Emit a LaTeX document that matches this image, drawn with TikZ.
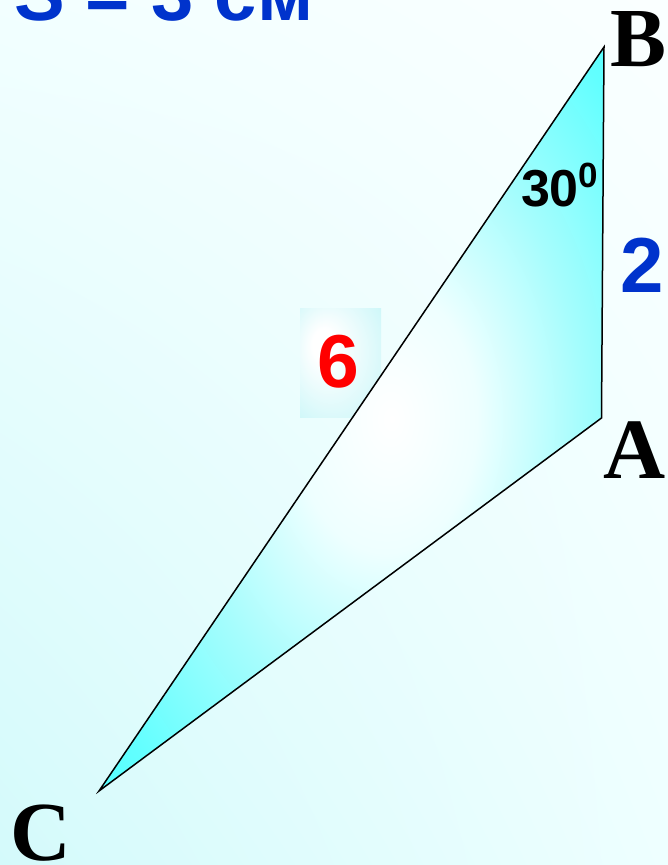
\documentclass[tikz,border=0pt]{standalone}
\usepackage{fontspec}
\usetikzlibrary{shadings}
\setmainfont{Liberation Serif}
\newfontfamily\arialf{Liberation Sans}
\definecolor{bgUL}{HTML}{F2FFFF}
\definecolor{bgUR}{HTML}{FAFFFF}
\definecolor{bgLL}{HTML}{D4FAFB}
\definecolor{bgLR}{HTML}{EEFFFF}
\definecolor{triA}{HTML}{EEFFFF}
\definecolor{triB}{HTML}{A6FDFD}
\definecolor{triC}{HTML}{62FFFF}
\definecolor{triD}{HTML}{4CFFFF}
\definecolor{boxOut}{HTML}{C8F6F8}
\definecolor{txtblue}{HTML}{0033CC}
\definecolor{txtred}{HTML}{FF0000}
\pgfdeclareradialshading{trishade}{\pgfpoint{4bp}{0bp}}{color(0bp)=(white); color(9bp)=(triA); color(20bp)=(triB); color(32bp)=(triC); color(40bp)=(triD); color(60bp)=(triD)}
\pgfdeclareradialshading{boxshade}{\pgfpoint{-12bp}{10bp}}{color(0bp)=(white); color(7bp)=(white); color(40bp)=(boxOut); color(50bp)=(boxOut)}
\tikzset{
  vlabel/.style={inner sep=0pt, font=\fontsize{84}{84}\selectfont\bfseries, text=black},
  numlbl/.style={inner sep=0pt, text=black},
  edge/.style={draw=black, line width=1.5pt, line join=miter}
}
\begin{document}
\begin{tikzpicture}[x=1pt,y=1pt]
\useasboundingbox (0,0) rectangle (668,865);
\shade[upper left=bgUL, upper right=bgUR, lower left=bgLL, lower right=bgLR] (0,0) rectangle (668,865);
% box behind 6
\shade[shading=boxshade] (300,447) rectangle (381,556);
\coordinate (B) at (604,818);
\coordinate (A) at (601.5,447);
\coordinate (C) at (99,74);
\shade[shading=trishade] (B) -- (A) -- (C) -- cycle;
\draw[edge] (B) -- (A) -- (C) -- cycle;
% vertex labels
\node[vlabel, anchor=base] (labB) at (639,798) {B};
\node[vlabel, anchor=base, font=\fontsize{86}{86}\selectfont\bfseries] (labA) at (635,386) {A};
\node[vlabel, anchor=base] (labC) at (41,5) {C};
% numbers
\node[numlbl, anchor=base, font=\arialf\fontsize{52}{52}\selectfont\bfseries] (ang) at (550,658) {30};
\node[numlbl, anchor=base, font=\arialf\fontsize{35}{35}\selectfont\bfseries] (deg) at (588,677) {0};
\node[numlbl, anchor=base, text=txtblue, font=\arialf\fontsize{78}{78}\selectfont\bfseries] (two) at (642.5,572) {2};
\node[numlbl, anchor=base, text=txtred, font=\arialf\fontsize{75}{75}\selectfont\bfseries] (six) at (338.5,477) {6};
\node[numlbl, anchor=base west, text=txtblue, font=\arialf\fontsize{76}{76}\selectfont\bfseries] (area) at (14,844) {S = 3 см};
\end{tikzpicture}
\end{document}
